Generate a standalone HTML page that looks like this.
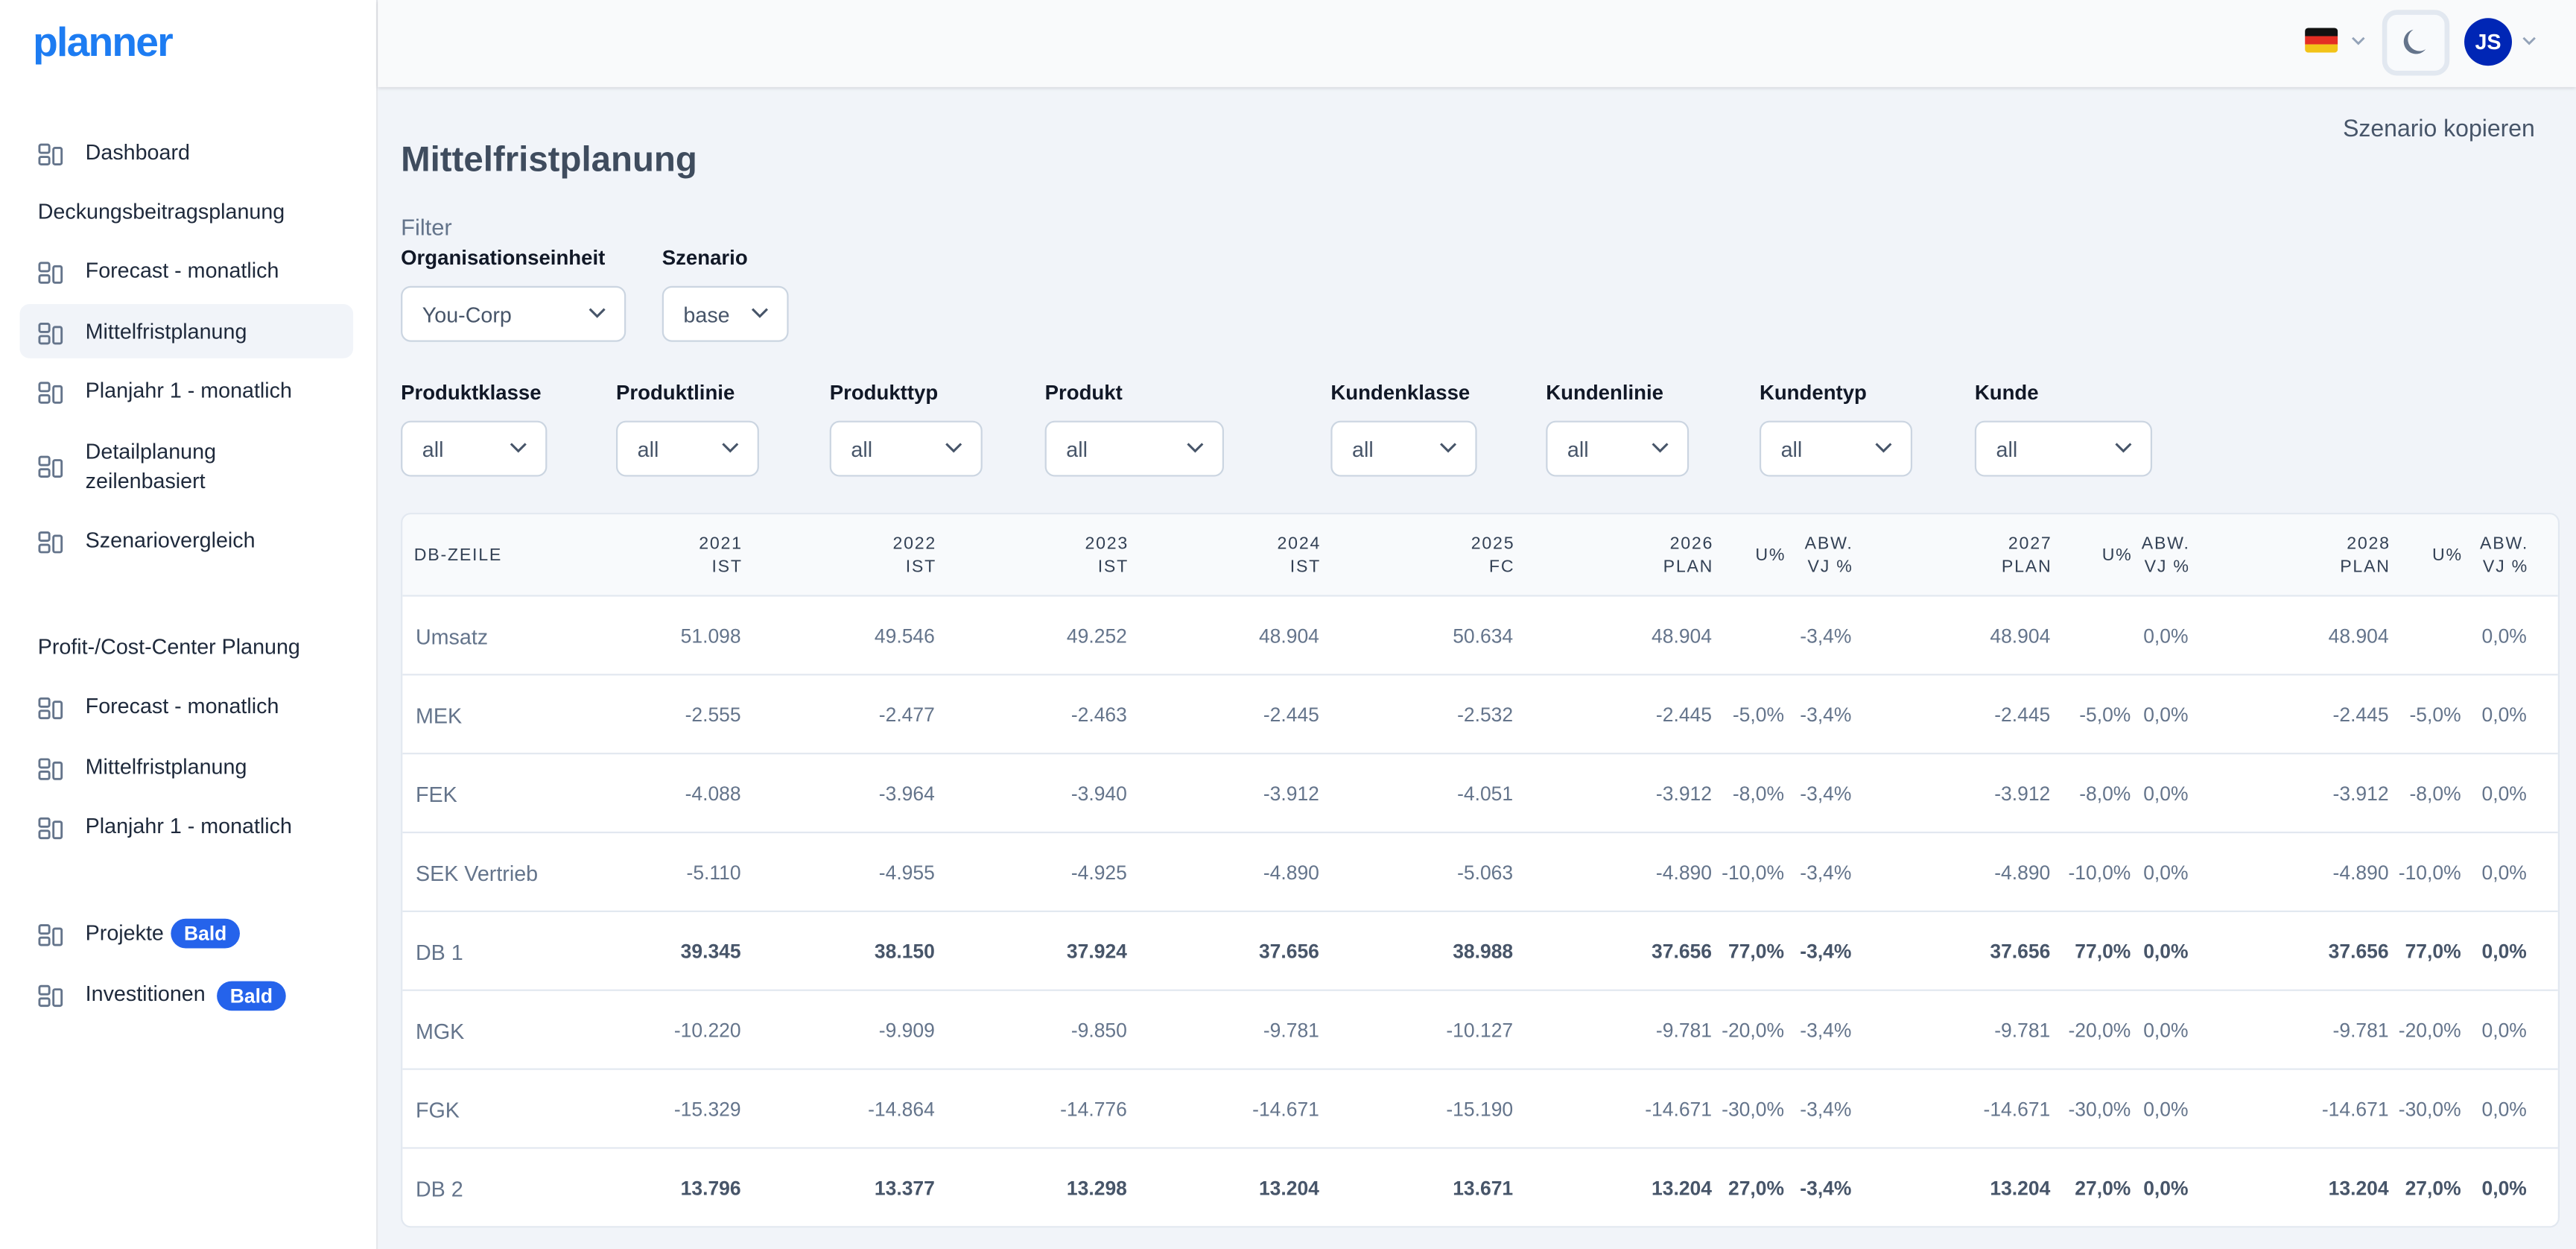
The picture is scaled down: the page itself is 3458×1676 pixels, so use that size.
<!DOCTYPE html>
<html><head><meta charset="utf-8"><style>
*{box-sizing:border-box;margin:0;padding:0}
body{width:3458px;height:1676px;overflow:hidden;background:#f1f4f9;font-family:"Liberation Sans",sans-serif}
#w{position:absolute;left:0;top:0;width:1568px;height:760px;transform:scale(2.20536);transform-origin:0 0;background:#f1f4f9}
.a{position:absolute;white-space:nowrap}
.nav{position:absolute;left:23px;font-size:13px;color:#1e293b;line-height:16px}
.nav svg{position:absolute;left:0;top:2px}
.nav span{position:absolute;left:29px;white-space:nowrap}
.lbl{position:absolute;font-size:12.5px;color:#111827;font-weight:bold;white-space:nowrap;transform:translateY(-8px)}
.sel{position:absolute;height:34px;background:#fff;border:1px solid #cbd5e1;border-radius:6px;font-size:13px;color:#475569}
.sel span{position:absolute;left:12px;top:9px}
.sel svg{position:absolute;right:11px;top:12px}
.tb{position:absolute;left:244px;top:312px;width:1314px;height:435px;background:#fff;border:1px solid #e2e8f0;border-radius:6px;overflow:hidden}
.h{position:absolute;left:0;top:0;width:100%;height:50px;background:#f8fafc;border-bottom:1px solid #e2e8f0}
.hc{position:absolute;width:100px;text-align:right;font-size:10.5px;letter-spacing:0.8px;color:#334155;line-height:14px}
.r{position:absolute;left:0;width:100%;height:48px;border-bottom:1px solid #e2e8f0}
.c{position:absolute;width:100px;text-align:right;font-size:12px;color:#64748b;top:17px;margin-left:-1px}
.r .n{position:absolute;left:8px;top:17px;font-size:13px;color:#64748b}
.b .c{font-weight:bold;color:#475569}
</style></head><body><div id="w">
<div class="a" style="left:0;top:0;width:230px;height:760px;background:#fff;border-right:1px solid #e5e7eb"></div>
<div class="a" style="left:230px;top:0;width:1338px;height:53px;background:#f9fafb;box-shadow:0 1px 2px rgba(0,0,0,0.12)"></div>
<div class="a" style="left:20px;top:12px;font-size:25px;font-weight:bold;color:#1d7cf2;letter-spacing:-0.8px">planner</div>
<div class="a" style="left:12px;top:185px;width:203px;height:33px;background:#f1f4f9;border-radius:6px"></div>
<svg width="0" height="0" style="position:absolute"><defs><g id="ic" fill="none" stroke="#64748b" stroke-width="1.3"><rect x="1" y="1" width="6" height="5" rx="1"/><rect x="1" y="8.5" width="6" height="4.5" rx="1"/><rect x="9.5" y="3" width="5" height="10" rx="1"/></g></defs></svg>
<div class="nav" style="top:85px"><svg width="16" height="14"><use href="#ic"/></svg><span>Dashboard</span></div>
<div class="nav" style="top:121px"><span style="left:0">Deckungsbeitragsplanung</span></div>
<div class="nav" style="top:157px"><svg width="16" height="14"><use href="#ic"/></svg><span>Forecast - monatlich</span></div>
<div class="nav" style="top:194px"><svg width="16" height="14"><use href="#ic"/></svg><span>Mittelfristplanung</span></div>
<div class="nav" style="top:230px"><svg width="16" height="14"><use href="#ic"/></svg><span>Planjahr 1 - monatlich</span></div>
<div class="nav" style="top:275px"><svg width="16" height="14"><use href="#ic"/></svg><span style="top:-9px;line-height:18px">Detailplanung<br>zeilenbasiert</span></div>
<div class="nav" style="top:321px"><svg width="16" height="14"><use href="#ic"/></svg><span>Szenariovergleich</span></div>
<div class="nav" style="top:386px"><span style="left:0">Profit-/Cost-Center Planung</span></div>
<div class="nav" style="top:422px"><svg width="16" height="14"><use href="#ic"/></svg><span>Forecast - monatlich</span></div>
<div class="nav" style="top:459px"><svg width="16" height="14"><use href="#ic"/></svg><span>Mittelfristplanung</span></div>
<div class="nav" style="top:495px"><svg width="16" height="14"><use href="#ic"/></svg><span>Planjahr 1 - monatlich</span></div>
<div class="nav" style="top:560px"><svg width="16" height="14"><use href="#ic"/></svg><span>Projekte</span><span style="left:81px;top:-1px;background:#2563eb;color:#fff;font-weight:bold;font-size:12px;border-radius:9px;padding:1px 8px;line-height:16px">Bald</span></div>
<div class="nav" style="top:597px"><svg width="16" height="14"><use href="#ic"/></svg><span>Investitionen</span><span style="left:109px;top:0px;background:#2563eb;color:#fff;font-weight:bold;font-size:12px;border-radius:9px;padding:1px 8px;line-height:16px">Bald</span></div>

<div class="a" style="left:1403px;top:17px;width:20px;height:15px;border-radius:2px;overflow:hidden"><div style="height:5px;background:#111"></div><div style="height:5px;background:#e42d23"></div><div style="height:5px;background:#f2c318"></div></div>
<svg class="a" style="left:1431px;top:22px" width="9" height="6"><path d="M1 1l3.5 3.5L8 1" fill="none" stroke="#94a3b8" stroke-width="1.3"/></svg>
<div class="a" style="left:1450px;top:6px;width:41px;height:40px;border:3px solid #e2e8f0;border-radius:9px;background:#f8fafc"></div>
<svg class="a" style="left:1462px;top:17px" width="16" height="17"><path d="M7 1A7.5 7.5 0 1 0 14.5 13 6 6 0 0 1 7 1z" fill="#64748b"/></svg>
<div class="a" style="left:1500px;top:11px;width:29px;height:29px;border-radius:50%;background:#0026b5;color:#fff;font-weight:bold;font-size:13px;text-align:center;line-height:29px">JS</div>
<svg class="a" style="left:1535px;top:22px" width="9" height="6"><path d="M1 1l3.5 3.5L8 1" fill="none" stroke="#94a3b8" stroke-width="1.3"/></svg>

<div class="a" style="right:25px;top:71px;font-size:14.5px;color:#475569">Szenario kopieren</div>
<div class="a" style="left:244px;top:85px;font-size:21.5px;font-weight:bold;color:#3f4c5e">Mittelfristplanung</div>
<div class="a" style="left:244px;top:130px;font-size:14px;color:#64748b">Filter</div>
<div class="lbl" style="left:244px;top:158px">Organisationseinheit</div>
<div class="lbl" style="left:403px;top:158px">Szenario</div>
<div class="sel" style="left:244px;top:174px;width:137px"><span>You-Corp</span><svg width="11" height="7"><path d="M1 1l4.5 4.5L10 1" fill="none" stroke="#475569" stroke-width="1.4"/></svg></div>
<div class="sel" style="left:403px;top:174px;width:77px"><span>base</span><svg width="11" height="7"><path d="M1 1l4.5 4.5L10 1" fill="none" stroke="#475569" stroke-width="1.4"/></svg></div>

<div class="lbl" style="left:244px;top:240px">Produktklasse</div>
<div class="lbl" style="left:375px;top:240px">Produktlinie</div>
<div class="lbl" style="left:505px;top:240px">Produkttyp</div>
<div class="lbl" style="left:636px;top:240px">Produkt</div>
<div class="lbl" style="left:810px;top:240px">Kundenklasse</div>
<div class="lbl" style="left:941px;top:240px">Kundenlinie</div>
<div class="lbl" style="left:1071px;top:240px">Kundentyp</div>
<div class="lbl" style="left:1202px;top:240px">Kunde</div>
<div class="sel" style="left:244px;top:256px;width:89px"><span>all</span><svg width="11" height="7"><path d="M1 1l4.5 4.5L10 1" fill="none" stroke="#475569" stroke-width="1.4"/></svg></div>
<div class="sel" style="left:375px;top:256px;width:87px"><span>all</span><svg width="11" height="7"><path d="M1 1l4.5 4.5L10 1" fill="none" stroke="#475569" stroke-width="1.4"/></svg></div>
<div class="sel" style="left:505px;top:256px;width:93px"><span>all</span><svg width="11" height="7"><path d="M1 1l4.5 4.5L10 1" fill="none" stroke="#475569" stroke-width="1.4"/></svg></div>
<div class="sel" style="left:636px;top:256px;width:109px"><span>all</span><svg width="11" height="7"><path d="M1 1l4.5 4.5L10 1" fill="none" stroke="#475569" stroke-width="1.4"/></svg></div>
<div class="sel" style="left:810px;top:256px;width:89px"><span>all</span><svg width="11" height="7"><path d="M1 1l4.5 4.5L10 1" fill="none" stroke="#475569" stroke-width="1.4"/></svg></div>
<div class="sel" style="left:941px;top:256px;width:87px"><span>all</span><svg width="11" height="7"><path d="M1 1l4.5 4.5L10 1" fill="none" stroke="#475569" stroke-width="1.4"/></svg></div>
<div class="sel" style="left:1071px;top:256px;width:93px"><span>all</span><svg width="11" height="7"><path d="M1 1l4.5 4.5L10 1" fill="none" stroke="#475569" stroke-width="1.4"/></svg></div>
<div class="sel" style="left:1202px;top:256px;width:108px"><span>all</span><svg width="11" height="7"><path d="M1 1l4.5 4.5L10 1" fill="none" stroke="#475569" stroke-width="1.4"/></svg></div>

<div class="tb">
<div class="h">
<div class="hc" style="left:7px;top:18px;text-align:left">DB-ZEILE</div>
<div class="hc" style="left:107px;top:11px">2021<br>IST</div>
<div class="hc" style="left:225px;top:11px">2022<br>IST</div>
<div class="hc" style="left:342px;top:11px">2023<br>IST</div>
<div class="hc" style="left:459px;top:11px">2024<br>IST</div>
<div class="hc" style="left:577px;top:11px">2025<br>FC</div>
<div class="hc" style="left:698px;top:11px">2026<br>PLAN</div>
<div class="hc" style="left:742px;top:18px">U%</div>
<div class="hc" style="left:783px;top:11px">ABW.<br>VJ %</div>
<div class="hc" style="left:904px;top:11px">2027<br>PLAN</div>
<div class="hc" style="left:953px;top:18px">U%</div>
<div class="hc" style="left:988px;top:11px">ABW.<br>VJ %</div>
<div class="hc" style="left:1110px;top:11px">2028<br>PLAN</div>
<div class="hc" style="left:1154px;top:18px">U%</div>
<div class="hc" style="left:1194px;top:11px">ABW.<br>VJ %</div>
</div>
<div class="r" style="top:50px"><div class="n">Umsatz</div><div class="c" style="left:107px">51.098</div><div class="c" style="left:225px">49.546</div><div class="c" style="left:342px">49.252</div><div class="c" style="left:459px">48.904</div><div class="c" style="left:577px">50.634</div><div class="c" style="left:698px">48.904</div><div class="c" style="left:783px">-3,4%</div><div class="c" style="left:904px">48.904</div><div class="c" style="left:988px">0,0%</div><div class="c" style="left:1110px">48.904</div><div class="c" style="left:1194px">0,0%</div></div>
<div class="r" style="top:98px"><div class="n">MEK</div><div class="c" style="left:107px">-2.555</div><div class="c" style="left:225px">-2.477</div><div class="c" style="left:342px">-2.463</div><div class="c" style="left:459px">-2.445</div><div class="c" style="left:577px">-2.532</div><div class="c" style="left:698px">-2.445</div><div class="c" style="left:742px">-5,0%</div><div class="c" style="left:783px">-3,4%</div><div class="c" style="left:904px">-2.445</div><div class="c" style="left:953px">-5,0%</div><div class="c" style="left:988px">0,0%</div><div class="c" style="left:1110px">-2.445</div><div class="c" style="left:1154px">-5,0%</div><div class="c" style="left:1194px">0,0%</div></div>
<div class="r" style="top:146px"><div class="n">FEK</div><div class="c" style="left:107px">-4.088</div><div class="c" style="left:225px">-3.964</div><div class="c" style="left:342px">-3.940</div><div class="c" style="left:459px">-3.912</div><div class="c" style="left:577px">-4.051</div><div class="c" style="left:698px">-3.912</div><div class="c" style="left:742px">-8,0%</div><div class="c" style="left:783px">-3,4%</div><div class="c" style="left:904px">-3.912</div><div class="c" style="left:953px">-8,0%</div><div class="c" style="left:988px">0,0%</div><div class="c" style="left:1110px">-3.912</div><div class="c" style="left:1154px">-8,0%</div><div class="c" style="left:1194px">0,0%</div></div>
<div class="r" style="top:194px"><div class="n">SEK Vertrieb</div><div class="c" style="left:107px">-5.110</div><div class="c" style="left:225px">-4.955</div><div class="c" style="left:342px">-4.925</div><div class="c" style="left:459px">-4.890</div><div class="c" style="left:577px">-5.063</div><div class="c" style="left:698px">-4.890</div><div class="c" style="left:742px">-10,0%</div><div class="c" style="left:783px">-3,4%</div><div class="c" style="left:904px">-4.890</div><div class="c" style="left:953px">-10,0%</div><div class="c" style="left:988px">0,0%</div><div class="c" style="left:1110px">-4.890</div><div class="c" style="left:1154px">-10,0%</div><div class="c" style="left:1194px">0,0%</div></div>
<div class="r b" style="top:242px"><div class="n">DB 1</div><div class="c" style="left:107px">39.345</div><div class="c" style="left:225px">38.150</div><div class="c" style="left:342px">37.924</div><div class="c" style="left:459px">37.656</div><div class="c" style="left:577px">38.988</div><div class="c" style="left:698px">37.656</div><div class="c" style="left:742px">77,0%</div><div class="c" style="left:783px">-3,4%</div><div class="c" style="left:904px">37.656</div><div class="c" style="left:953px">77,0%</div><div class="c" style="left:988px">0,0%</div><div class="c" style="left:1110px">37.656</div><div class="c" style="left:1154px">77,0%</div><div class="c" style="left:1194px">0,0%</div></div>
<div class="r" style="top:290px"><div class="n">MGK</div><div class="c" style="left:107px">-10.220</div><div class="c" style="left:225px">-9.909</div><div class="c" style="left:342px">-9.850</div><div class="c" style="left:459px">-9.781</div><div class="c" style="left:577px">-10.127</div><div class="c" style="left:698px">-9.781</div><div class="c" style="left:742px">-20,0%</div><div class="c" style="left:783px">-3,4%</div><div class="c" style="left:904px">-9.781</div><div class="c" style="left:953px">-20,0%</div><div class="c" style="left:988px">0,0%</div><div class="c" style="left:1110px">-9.781</div><div class="c" style="left:1154px">-20,0%</div><div class="c" style="left:1194px">0,0%</div></div>
<div class="r" style="top:338px"><div class="n">FGK</div><div class="c" style="left:107px">-15.329</div><div class="c" style="left:225px">-14.864</div><div class="c" style="left:342px">-14.776</div><div class="c" style="left:459px">-14.671</div><div class="c" style="left:577px">-15.190</div><div class="c" style="left:698px">-14.671</div><div class="c" style="left:742px">-30,0%</div><div class="c" style="left:783px">-3,4%</div><div class="c" style="left:904px">-14.671</div><div class="c" style="left:953px">-30,0%</div><div class="c" style="left:988px">0,0%</div><div class="c" style="left:1110px">-14.671</div><div class="c" style="left:1154px">-30,0%</div><div class="c" style="left:1194px">0,0%</div></div>
<div class="r b" style="top:386px;border-bottom:none"><div class="n">DB 2</div><div class="c" style="left:107px">13.796</div><div class="c" style="left:225px">13.377</div><div class="c" style="left:342px">13.298</div><div class="c" style="left:459px">13.204</div><div class="c" style="left:577px">13.671</div><div class="c" style="left:698px">13.204</div><div class="c" style="left:742px">27,0%</div><div class="c" style="left:783px">-3,4%</div><div class="c" style="left:904px">13.204</div><div class="c" style="left:953px">27,0%</div><div class="c" style="left:988px">0,0%</div><div class="c" style="left:1110px">13.204</div><div class="c" style="left:1154px">27,0%</div><div class="c" style="left:1194px">0,0%</div></div>
</div>
</div></body></html>
